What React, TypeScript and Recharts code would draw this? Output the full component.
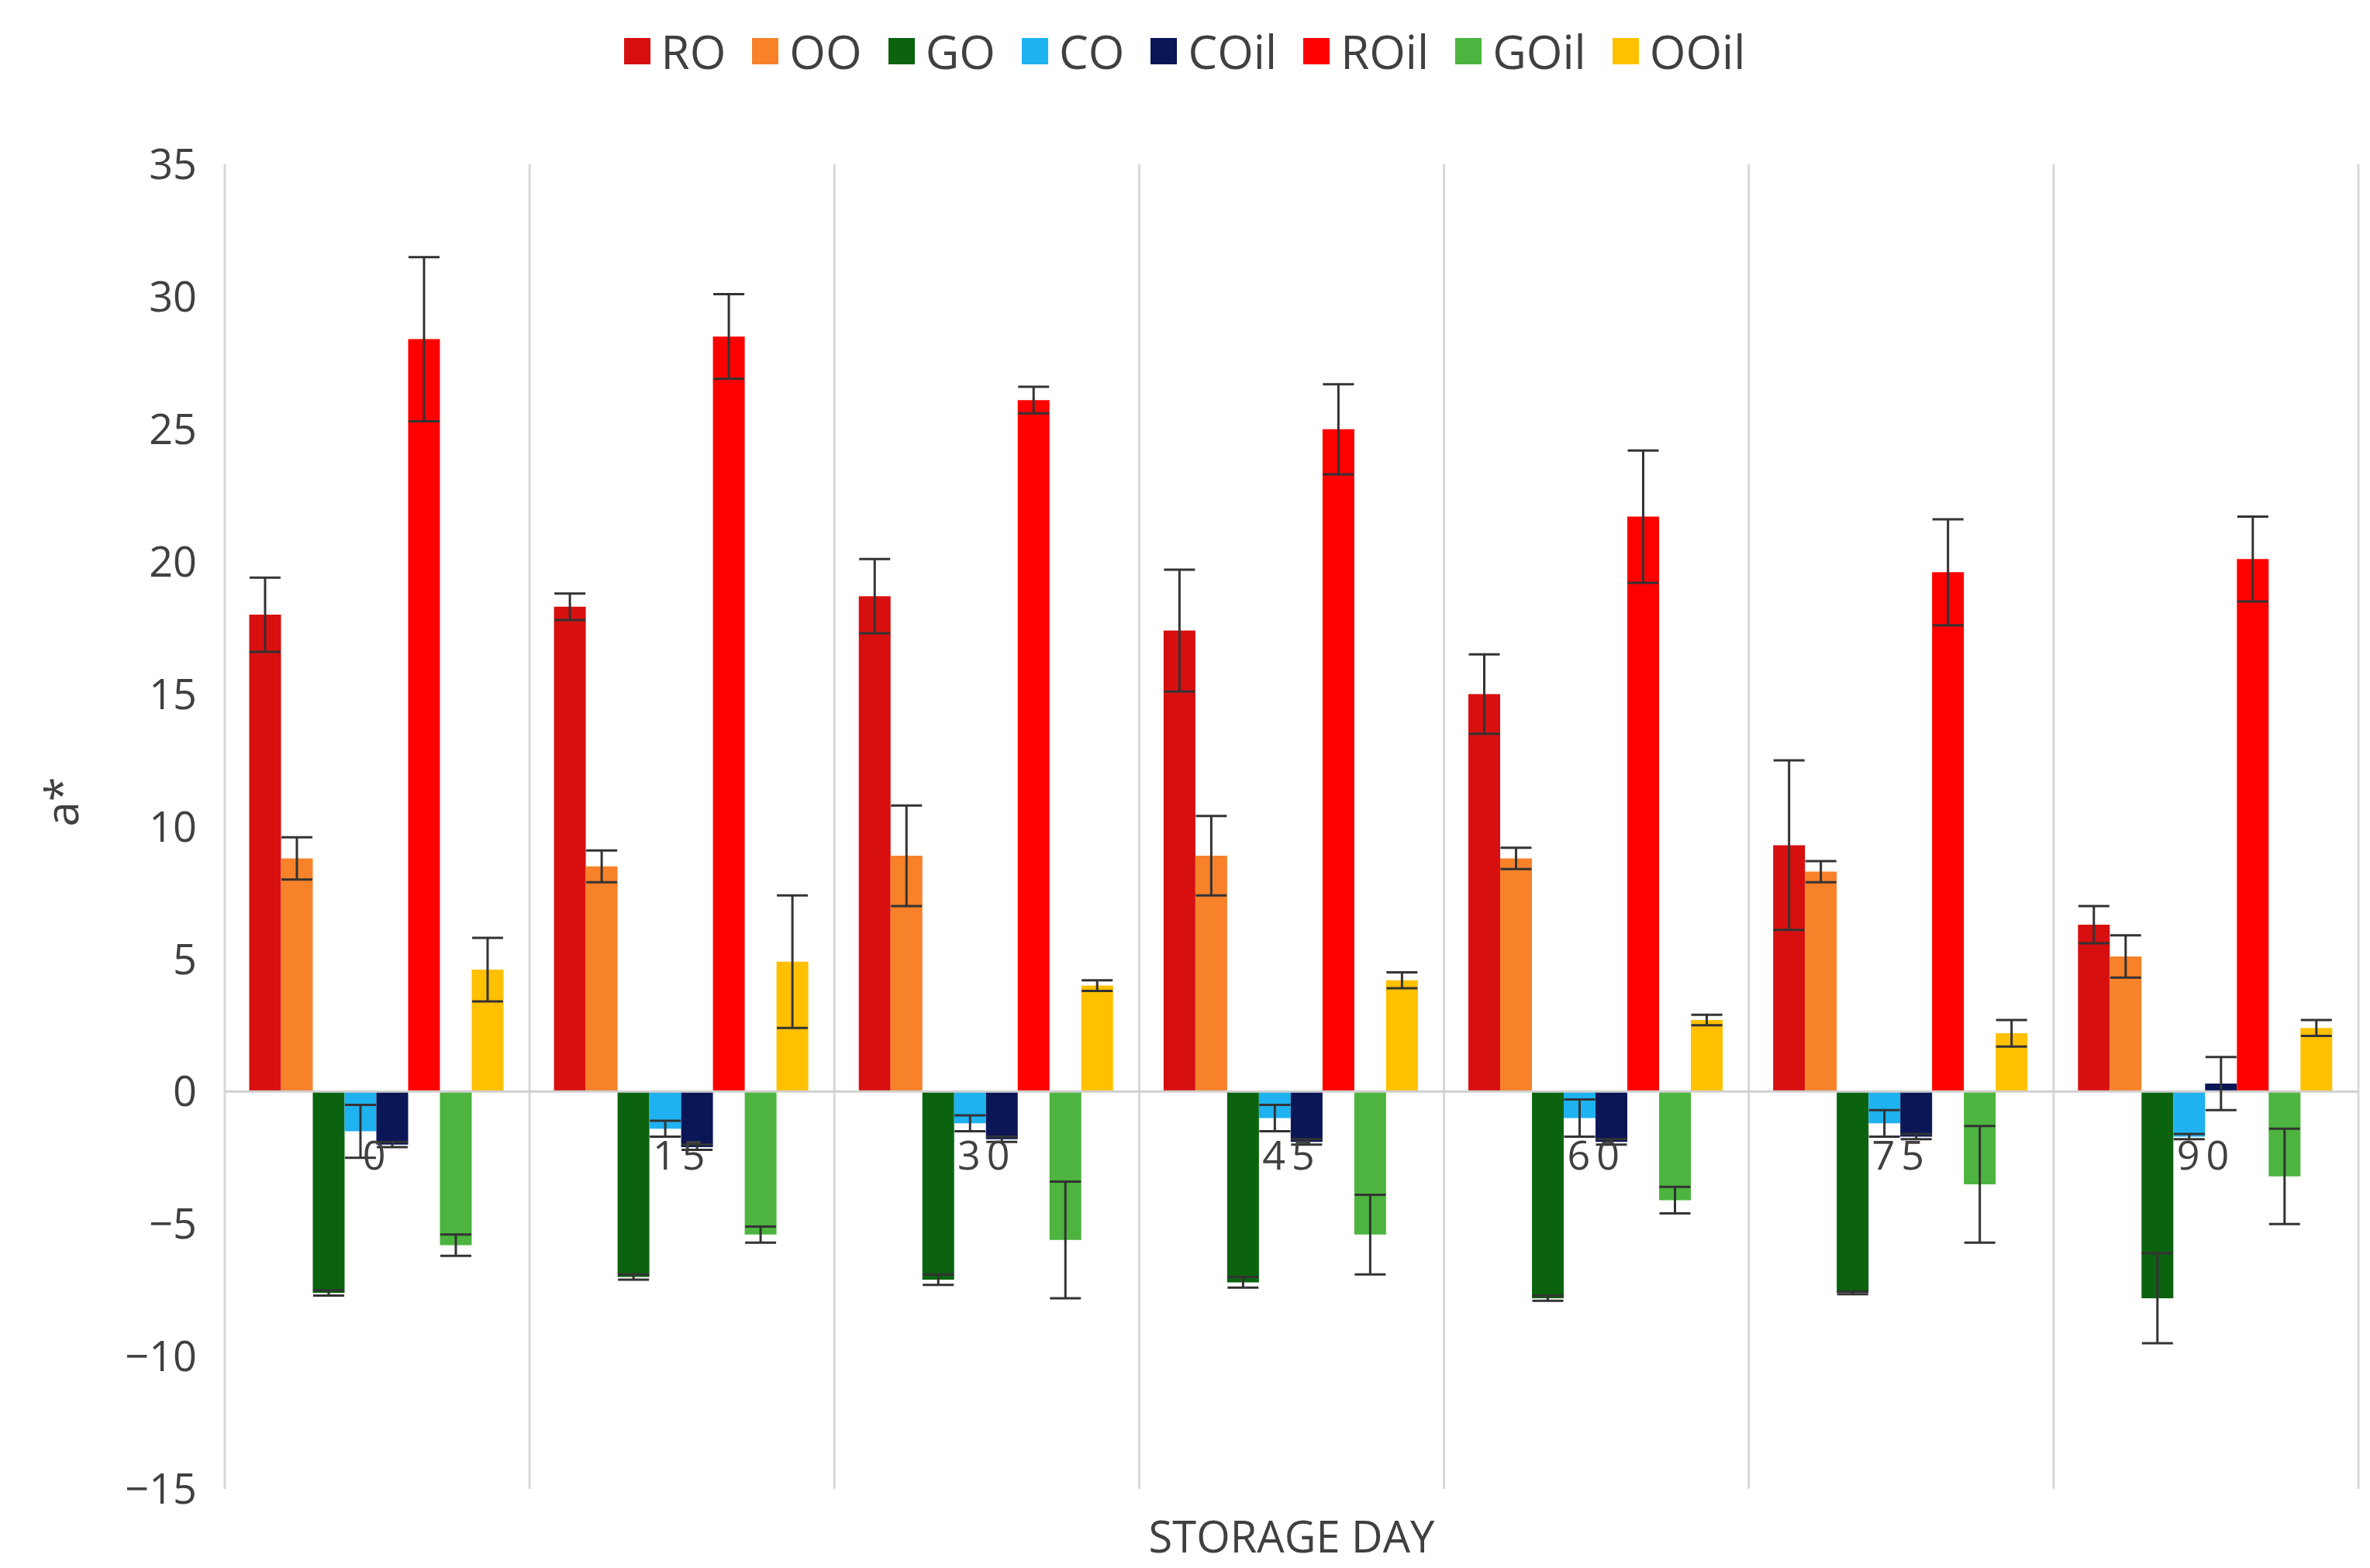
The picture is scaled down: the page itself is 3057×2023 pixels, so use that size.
import React from "react";
import {
  Bar,
  BarChart,
  CartesianGrid,
  ErrorBar,
  ReferenceLine,
  XAxis,
  YAxis,
} from "recharts";

const days = ["0", "15", "30", "45", "60", "75", "90"];

const RO = [18.0, 18.3, 18.7, 17.4, 15.0, 9.3, 6.3];
const RO_err = [1.4, 0.5, 1.4, 2.3, 1.5, 3.2, 0.7];
const OO = [8.8, 8.5, 8.9, 8.9, 8.8, 8.3, 5.1];
const OO_err = [0.8, 0.6, 1.9, 1.5, 0.4, 0.4, 0.8];
const GO = [-7.6, -7.0, -7.1, -7.2, -7.8, -7.6, -7.8];
const GO_err = [0.1, 0.1, 0.2, 0.2, 0.1, 0.05, 1.7];
const CO = [-1.5, -1.4, -1.2, -1.0, -1.0, -1.2, -1.7];
const CO_err = [1.0, 0.3, 0.3, 0.5, 0.7, 0.5, 0.1];
const COil = [-2.0, -2.1, -1.8, -1.9, -1.9, -1.7, 0.3];
const COil_err = [0.1, 0.1, 0.1, 0.1, 0.1, 0.1, 1.0];
const ROil = [28.4, 28.5, 26.1, 25.0, 21.7, 19.6, 20.1];
const ROil_err = [3.1, 1.6, 0.5, 1.7, 2.5, 2.0, 1.6];
const GOil = [-5.8, -5.4, -5.6, -5.4, -4.1, -3.5, -3.2];
const GOil_err = [0.4, 0.3, 2.2, 1.5, 0.5, 2.2, 1.8];
const OOil = [4.6, 4.9, 4.0, 4.2, 2.7, 2.2, 2.4];
const OOil_err = [1.2, 2.5, 0.2, 0.3, 0.2, 0.5, 0.3];

const yTicks = [-15, -10, -5, 0, 5, 10, 15, 20, 25, 30, 35];

const series = [
  { key: "RO", values: RO, err: RO_err, color: "#d80f0f" },
  { key: "OO", values: OO, err: OO_err, color: "#f7822a" },
  { key: "GO", values: GO, err: GO_err, color: "#0b630f" },
  { key: "CO", values: CO, err: CO_err, color: "#1fb2f0" },
  { key: "COil", values: COil, err: COil_err, color: "#0b1657" },
  { key: "ROil", values: ROil, err: ROil_err, color: "#ff0000" },
  { key: "GOil", values: GOil, err: GOil_err, color: "#4cb43f" },
  { key: "OOil", values: OOil, err: OOil_err, color: "#ffc000" },
];

const data = days.map((d, i) => {
  const row: Record<string, string | number> = { day: d };
  series.forEach((s) => {
    row[s.key] = s.values[i];
    row[s.key + "_err"] = s.err[i];
  });
  return row;
});

const W = 3040;
const H = 2010;
const M = { top: 204, right: 6, left: 82, bottom: 96 };
const Y_MIN = -15;
const Y_MAX = 35;
const TEXT = "#404040";
const FONT = "'Open Sans', 'Noto Sans', sans-serif";

const zeroY = M.top + ((Y_MAX - 0) / (Y_MAX - Y_MIN)) * (H - M.top - M.bottom);

const DayTick = (props: any) => {
  const { x, payload } = props;
  return (
    <text x={x} y={zeroY + 100} textAnchor="middle" fill={TEXT} fontSize={52} fontFamily={FONT} letterSpacing={8}>
      {payload.value}
    </text>
  );
};

export default function App() {
  return (
    <div style={{ position: "relative", width: W, height: H, fontFamily: FONT }}>
      <div
        style={{
          position: "absolute",
          top: 18,
          left: 0,
          width: W,
          display: "flex",
          justifyContent: "center",
          gap: 34,
          fontSize: 60,
          color: TEXT,
          lineHeight: "80px",
        }}
      >
        {series.map((s) => (
          <div key={s.key} style={{ display: "flex", alignItems: "center" }}>
            <span style={{ display: "inline-block", width: 34, height: 34, background: s.color, marginRight: 14 }} />
            {s.key}
          </div>
        ))}
      </div>
      <BarChart
        width={W}
        height={H}
        data={data}
        margin={M}
        barCategoryGap="8%"
        barGap={0}
      >
        <CartesianGrid
          horizontal={false}
          stroke="#d9d9d9"
          strokeWidth={3}
          verticalCoordinatesGenerator={({ offset }: any) =>
            Array.from({ length: days.length + 1 }, (_, i) => offset.left + (i * offset.width) / days.length)
          }
        />
        <XAxis dataKey="day" axisLine={false} tickLine={false} tick={<DayTick />} height={1} />
        <YAxis
          domain={[Y_MIN, Y_MAX]}
          ticks={yTicks}
          axisLine={false}
          tickLine={false}
          width={200}
          tick={{ fill: TEXT, fontSize: 54, fontFamily: FONT }}
          tickFormatter={(v: number) => (v < 0 ? `\u2212${Math.abs(v)}` : String(v))}
          tickMargin={30}
          label={{ value: "a*", angle: -90, position: "insideLeft", offset: 0, dx: -10, fill: TEXT, fontSize: 58, fontFamily: FONT }}
        />
        <ReferenceLine y={0} stroke="#d0d0d0" strokeWidth={3} />
        {series.map((s) => (
          <Bar key={s.key} dataKey={s.key} fill={s.color} isAnimationActive={false}>
            <ErrorBar dataKey={s.key + "_err"} width={20} stroke="#333" strokeWidth={3} />
          </Bar>
        ))}
      </BarChart>
      <div
        style={{
          position: "absolute",
          left: M.left + 200,
          width: W - M.left - 200 - M.right,
          top: 1935,
          textAlign: "center",
          fontSize: 56,
          color: TEXT,
        }}
      >
        STORAGE DAY
      </div>
    </div>
  );
}
